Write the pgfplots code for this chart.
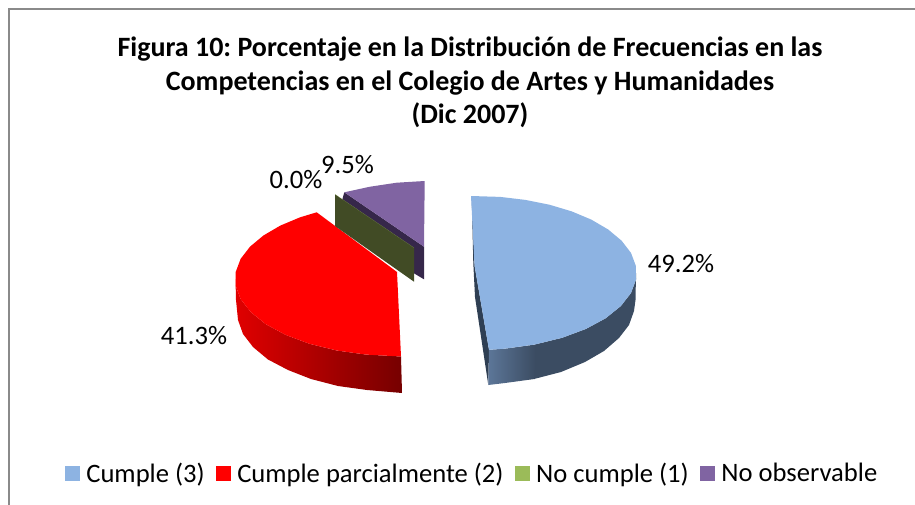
\documentclass[border=0pt]{standalone}
\usepackage{fontspec}
\setmainfont{Carlito}
\usepackage{pgfplots}
\pgfplotsset{compat=1.18}
\definecolor{cblue}{HTML}{8DB3E2}
\definecolor{cgreen}{HTML}{9BBB59}
\definecolor{cpurple}{HTML}{8064A2}
\definecolor{gface}{HTML}{414B25}
\definecolor{pdark}{HTML}{36274A}
\definecolor{frame}{HTML}{8A8A8A}
\definecolor{bcut}{HTML}{2F3F53}
\definecolor{bside}{HTML}{3B4C62}
\begin{document}
\frenchspacing
\begin{tikzpicture}
\path[use as bounding box] (0,0) rectangle (915bp,505bp);
\begin{axis}[
  hide axis, scale only axis, width=915bp, height=505bp,
  xmin=0, xmax=915, ymin=0, ymax=505, y dir=reverse,
  clip=false,
  title={Figura 10: Porcentaje en la Distribución de Frecuencias en las\\Competencias en el Colegio de Artes y Humanidades\\(Dic 2007)},
  title style={at={(axis cs:470,43)}, anchor=north, align=center, inner sep=0pt,
    font=\fontsize{28.1}{33.5}\selectfont\bfseries},
  legend columns=4,
  legend style={at={(axis cs:472,473.5)}, anchor=center, draw=none, fill=none,
    font=\fontsize{26.7}{30}\selectfont,
    /tikz/every even column/.append style={column sep=9bp},
    /tikz/every odd column/.append style={column sep=4.6bp}},
  legend image code/.code={\fill[#1] (0bp,-7.5bp) rectangle (15bp,7.5bp);},
]
% frame
\addplot[frame, line width=2bp, forget plot] coordinates {(8.5,505) (8.5,9.5) (915,9.5)};
% purple side
\addplot[fill=pdark, draw=none, forget plot] coordinates {(344.3,192.3) (424,246.7) (424,279.3) (335,226)} -- cycle;
% blue cut face
\addplot[fill=bcut, draw=none, forget plot] coordinates {(471.7,196) (474.6,266) (489,350) (488.3,385) (475,297) (473.3,263)} -- cycle;
% blue side
\addplot[fill=bside, draw=none, forget plot] coordinates {(534.9,344.5) (562.1,337.8) (586,328.9) (605.8,318.2) (620.9,306) (631,293) (636,279.5) (636,273) (635.5,300) (634,311) (629,325) (619,338) (604,351) (585,362) (561,372) (534,379)} -- cycle;
\addplot[shade, shading=axis, draw=none, forget plot, left color={rgb,255:red,92;green,118;blue,152}, right color=bside] coordinates {(489,349.8) (505.4,348.6) (535.5,344.5) (534.5,379) (505,383) (488.3,385)} -- cycle;
% red side
\addplot[shade, shading=axis, draw=none, forget plot, left color={rgb,255:red,224;green,0;blue,0}, middle color={rgb,255:red,178;green,0;blue,0}, right color={rgb,255:red,118;green,0;blue,0}] coordinates {(401,356.5) (366.2,354.6) (336.7,350.5) (309.5,343.8) (285.6,334.9) (265.8,324.2) (250.7,312) (240.6,299) (235.6,285.5) (235.5,279) (236,300) (238,320) (243,334) (253,347) (268,359.5) (288,370) (311,379) (338,386) (367,390) (402,393)} -- cycle;
% blue top
\addplot[fill=cblue, draw=none] coordinates {(471,196) (500.3,196.9) (525.4,199.9) (549.4,204.7) (571.5,211.3) (591.3,219.6) (608.2,229.5) (621.6,240.7) (631,252.9) (635.9,266) (636,279.5) (631,293) (620.9,306) (605.8,318.2) (586,328.9) (562.1,337.8) (534.9,344.5) (505.4,348.6) (489,349.8) (474.6,266)} -- cycle;
\addlegendentry{Cumple (3)}
% red top
\addplot[fill=red, draw=none] coordinates {(401,356.5) (366.2,354.6) (336.7,350.5) (309.5,343.8) (285.6,334.9) (265.8,324.2) (250.7,312) (240.6,299) (235.6,285.5) (235.7,272) (240.6,258.9) (250,246.7) (263.4,235.5) (280.3,225.6) (300.1,217.3) (316.7,212.3) (397,272)} -- cycle;
\addlegendentry{Cumple parcialmente (2)}
% green: zero-valued slice: its cut face
\addplot[fill=gface, draw=none, forget plot] coordinates {(335,194.3) (414,247.7) (414,281.7) (335,226)} -- cycle;
\addplot[fill=cgreen, draw=none] coordinates {(335,194.3) (414,247.7)} -- cycle;
\addlegendentry{No cumple (1)}
% purple top
\addplot[fill=cpurple, draw=none] coordinates {(344.3,192.3) (370,186.7) (396.7,182.7) (424.7,181) (424,246.7)} -- cycle;
\addlegendentry{No observable}
% labels
\begin{scope}[every node/.style={font=\fontsize{26.7}{30}\selectfont, inner sep=0pt}]
\node at (axis cs:681,264) {49.2\%};
\node at (axis cs:194,335.5) {41.3\%};
\node at (axis cs:296,179.5) {0.0\%};
\node at (axis cs:347.5,165) {9.5\%};
\end{scope}
\end{axis}
\end{tikzpicture}
\end{document}
